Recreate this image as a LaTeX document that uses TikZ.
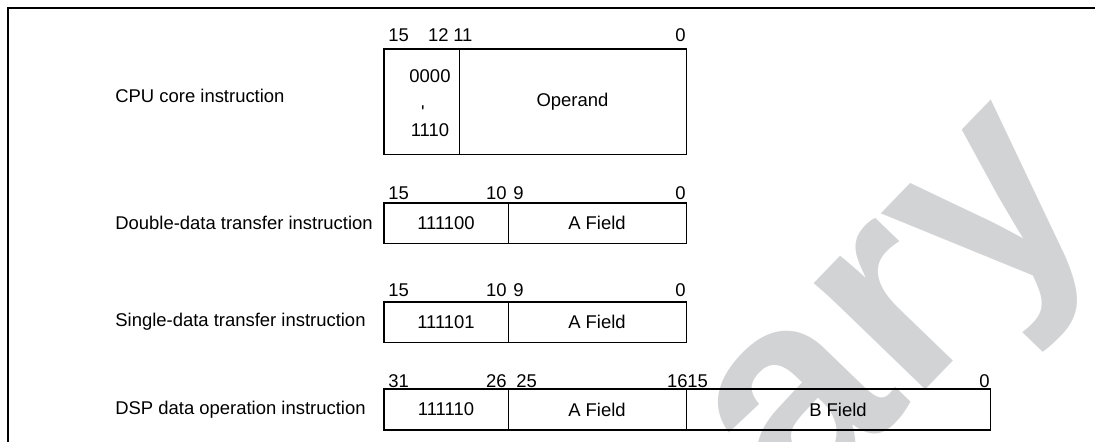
\documentclass[tikz,border=0pt]{standalone}
\usepackage{fontspec}
\setmainfont{Liberation Sans}
\definecolor{wmgray}{RGB}{210,211,213}
\usetikzlibrary{positioning}

\begin{document}
\begin{tikzpicture}[
  x=0.02cm, y=-0.02cm,
  font=\fontsize{10.5}{12.6}\selectfont,
  field/.style={draw, line width=0.5pt, inner sep=0pt, minimum height=0.8cm},
  outline/.style={draw, line width=0.9pt},
  bitno/.style={inner sep=0pt},
  insn/.style={inner sep=0pt, anchor=west}
]
\useasboundingbox (0,0) rectangle (1095,442);

% watermark
\node[text=wmgray, rotate=46, inner sep=0pt,
      font=\fontsize{166}{166}\bfseries\selectfont] (watermark) at (916,330) {ary};

% frame
\draw[line width=1.1pt] (8,442) -- (8,8) -- (1095,8);

% CPU core instruction
\node[insn] (cpulbl) at (115,96) {CPU core instruction};
\node[field, minimum width=1.5cm, minimum height=2.1cm] (cpuop) at (421.5,101.5) {};
\node[field, minimum width=4.54cm, minimum height=2.1cm] (cpuopd) at (572.5,101.5) {Operand};
\draw[outline] (cpuop.north west) rectangle (cpuopd.south east);
\node (c0) at (430,76) {0000};
\node[bitno, anchor=north] (c1) at (423,105.5) {\textquotesingle};
\node (c2) at (430,130) {1110};
\node[bitno, anchor=west] at (388,35) {15};
\node[bitno, anchor=east] at (449,35) {12};
\node[bitno, anchor=west] at (453,35) {11};
\node[bitno, anchor=east] at (686,35) {0};

% Double-data transfer instruction
\node[insn] (ddlbl) at (115,223) {Double-data transfer instruction};
\node[field, minimum width=2.48cm] (ddop) at (446,223) {111100};
\node[field, minimum width=3.56cm] (dda) at (597,223) {A Field};
\draw[outline] (ddop.north west) rectangle (dda.south east);
\node[bitno, anchor=west] at (388,193) {15};
\node[bitno, anchor=east] at (507,193) {10};
\node[bitno, anchor=west] at (513,193) {9};
\node[bitno, anchor=east] at (686,193) {0};

% Single-data transfer instruction
\node[insn] (sdlbl) at (115,322) {Single-data transfer instruction};
\node[field, minimum width=2.48cm] (sdop) at (446,322) {111101};
\node[field, minimum width=3.56cm] (sda) at (597,322) {A Field};
\draw[outline] (sdop.north west) rectangle (sda.south east);
\node[bitno, anchor=west] at (388,290) {15};
\node[bitno, anchor=east] at (507,290) {10};
\node[bitno, anchor=west] at (513,290) {9};
\node[bitno, anchor=east] at (686,290) {0};

% DSP data operation instruction
\node[insn] (dsplbl) at (115,409.5) {DSP data operation instruction};
\node[field, minimum width=2.48cm] (dspop) at (446,409.5) {111110};
\node[field, minimum width=3.56cm] (dspa) at (597,409.5) {A Field};
\node[field, minimum width=6.08cm] (dspb) at (838,409.5) {B Field};
\draw[outline] (dspop.north west) rectangle (dspb.south east);
\node[bitno, anchor=west] at (388,381) {31};
\node[bitno, anchor=east] at (507,381) {26};
\node[bitno, anchor=west] at (516,381) {25};
\node[bitno, anchor=east] at (688,381) {16};
\node[bitno, anchor=west] at (687,381) {15};
\node[bitno, anchor=east] at (990,381) {0};
\end{tikzpicture}
\end{document}
